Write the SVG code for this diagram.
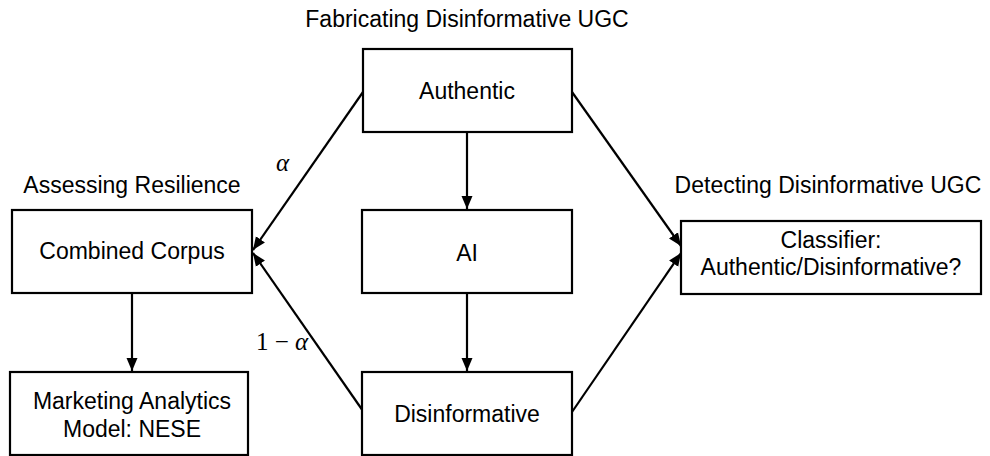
<svg xmlns="http://www.w3.org/2000/svg" width="990" height="456" viewBox="0 0 990 456">
<style>
.box{fill:#fff;stroke:#000;stroke-width:2.2}
.t{font-family:"Liberation Sans",Arial,sans-serif;font-size:23px;fill:#000;text-anchor:middle}
.m{font-family:"Liberation Serif","Times New Roman",serif;font-size:25px;fill:#000}
.c{stroke:#000;stroke-width:2.2;fill:none;marker-end:url(#ah)}
</style>
<defs>
<marker id="ah" markerUnits="userSpaceOnUse" markerWidth="14" markerHeight="12" refX="13" refY="6" orient="auto">
<path d="M0,0.5 L13,6 L0,11.5 z" fill="#000"/>
</marker>
</defs>
<rect width="990" height="456" fill="#fff"/>
<g id="titles">
<text class="t" x="467" y="27">Fabricating Disinformative UGC</text>
<text class="t" x="132" y="193">Assessing Resilience</text>
<text class="t" x="828" y="193">Detecting Disinformative UGC</text>
</g>
<g id="connectors">
<line class="c" x1="363" y1="92" x2="253" y2="250"/>
<line class="c" x1="363" y1="411" x2="253" y2="253"/>
<line class="c" x1="572" y1="92" x2="681" y2="246"/>
<line class="c" x1="572" y1="412" x2="681" y2="253"/>
<line class="c" x1="467" y1="132" x2="467" y2="209"/>
<line class="c" x1="467" y1="293" x2="467" y2="371"/>
<line class="c" x1="132" y1="293" x2="132" y2="371"/>
</g>
<g id="labels">
<text class="m" x="276" y="171" font-style="italic">α</text>
<text class="m" x="256" y="350">1 − <tspan font-style="italic">α</tspan></text>
</g>
<g id="authentic">
<rect class="box" x="363" y="49" width="209" height="83"/>
<text class="t" x="467" y="99">Authentic</text>
</g>
<g id="ai">
<rect class="box" x="362" y="210" width="210" height="83"/>
<text class="t" x="467" y="261">AI</text>
</g>
<g id="disinformative">
<rect class="box" x="362" y="372" width="210" height="83"/>
<text class="t" x="467" y="422">Disinformative</text>
</g>
<g id="combined">
<rect class="box" x="12" y="210" width="240" height="83"/>
<text class="t" x="132" y="259">Combined Corpus</text>
</g>
<g id="marketing">
<rect class="box" x="10" y="372" width="238" height="83"/>
<text class="t" x="132" y="409">Marketing Analytics</text>
<text class="t" x="132" y="437">Model: NESE</text>
</g>
<g id="classifier">
<rect class="box" x="681" y="221" width="300" height="73"/>
<text class="t" x="831" y="248">Classifier:</text>
<text class="t" x="831" y="275">Authentic/Disinformative?</text>
</g>
</svg>
